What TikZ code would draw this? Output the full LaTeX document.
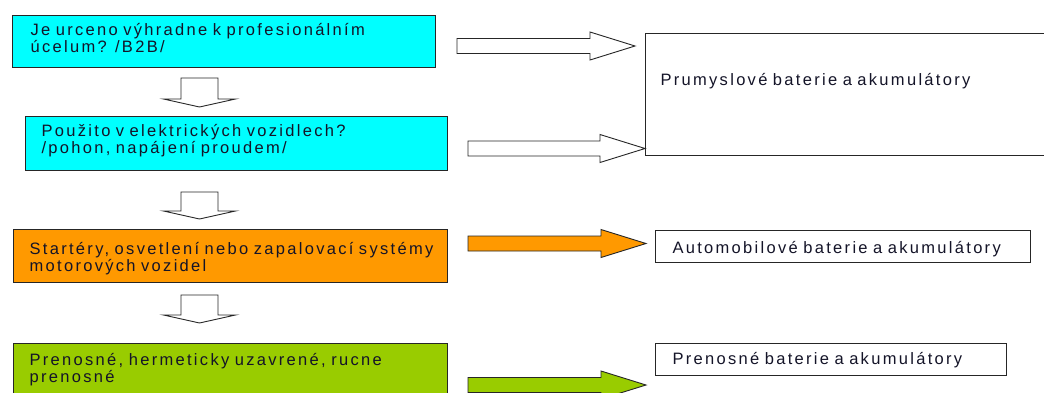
\documentclass[tikz,border=0pt]{standalone}
\usepackage{fontspec}
\setmainfont{Liberation Sans}[LetterSpace=14]
\usetikzlibrary{calc}

\definecolor{qcyan}{RGB}{0,255,255}
\definecolor{qorange}{RGB}{255,153,0}
\definecolor{qgreen}{RGB}{153,204,0}
\definecolor{ink}{RGB}{20,20,40}

% fat arrow pointing right, from tail coordinate to tip coordinate
\newcommand{\fatright}[3][white]{%
  \filldraw[fill=#1, draw=black!85, line width=0.9pt] let \p1=(#2), \p2=(#3) in
    (\x1,\y1+7.5pt) -- (\x2-45pt,\y1+7.5pt) -- (\x2-45pt,\y1+14pt) -- (\x2,\y1)
    -- (\x2-45pt,\y1-14pt) -- (\x2-45pt,\y1-7.5pt) -- (\x1,\y1-7.5pt) -- cycle;}
% fat arrow pointing down
\newcommand{\fatdown}[2]{%
  \filldraw[fill=white, draw=black!85, line width=0.9pt] let \p1=(#1), \p2=(#2) in
    (\x1-18.5pt,\y1) -- (\x1+18.5pt,\y1) -- (\x1+18.5pt,\y2+8pt) -- (\x1+36pt,\y2+8pt)
    -- (\x1,\y2) -- (\x1-36pt,\y2+8pt) -- (\x1-18.5pt,\y2+8pt) -- cycle;}

\begin{document}
\begin{tikzpicture}[x=1pt, y=-1pt, font=\fontsize{16.5}{14.5}\selectfont, text=ink]
  %
  \tikzstyle{q} = [draw=black!85, line width=1.2pt, anchor=north west, inner ysep=0pt, align=left]
  \tikzstyle{r} = [q, fill=white, line width=1pt]
  \clip (0,0) rectangle (1044,392);
  \fill[white] (0,0) rectangle (1044,392);

  % questions
  \node[q, fill=qcyan, inner xsep=18, text width=387, text height=20, text depth=32] (q1) at (12,15)
    {Je urceno výhradne k profesionálním\\úcelum? /B2B/};
  \node[q, fill=qcyan, inner xsep=16, text width=390, text height=20, text depth=34] (q2) at (25,116)
    {Použito v elektrických vozidlech?\\/pohon, napájení proudem/};
  \node[q, fill=qorange, inner xsep=16, text width=402, text height=25, text depth=28] (q3) at (13,229)
    {Startéry, osvetlení nebo zapalovací systémy\\motorových vozidel};
  \node[q, fill=qgreen, inner xsep=16, text width=402, text height=22, text depth=31] (q4) at (13,343)
    {Prenosné, hermeticky uzavrené, rucne\\prenosné};

  % results
  \node[r, inner xsep=15, text width=400, text height=52, text depth=70] (ind) at (645,33)
    {Prumyslové baterie a akumulátory};
  \node[r, inner xsep=17, text width=341, text height=23, text depth=9] (aut) at (655,230)
    {Automobilové baterie a akumulátory};
  \node[r, inner xsep=17, text width=317, text height=21, text depth=11] (por) at (655,343)
    {Prenosné baterie a akumulátory};

  % arrows
  \coordinate (a1) at (457,46);    \coordinate (b1) at (635,46);
  \coordinate (a2) at (468,148.5); \coordinate (b2) at (645,148.5);
  \coordinate (a3) at (468,243.5); \coordinate (b3) at (646,243.5);
  \coordinate (a4) at (468,385);   \coordinate (b4) at (646,385);
  \fatright{a1}{b1}
  \fatright{a2}{b2}
  \fatright[qorange]{a3}{b3}
  \fatright[qgreen]{a4}{b4}

  \coordinate (d1) at (199.5,78);  \coordinate (e1) at (199.5,107);
  \coordinate (d2) at (199.5,192); \coordinate (e2) at (199.5,219);
  \coordinate (d3) at (199.5,295); \coordinate (e3) at (199.5,323);
  \fatdown{d1}{e1}
  \fatdown{d2}{e2}
  \fatdown{d3}{e3}
\end{tikzpicture}
\end{document}
